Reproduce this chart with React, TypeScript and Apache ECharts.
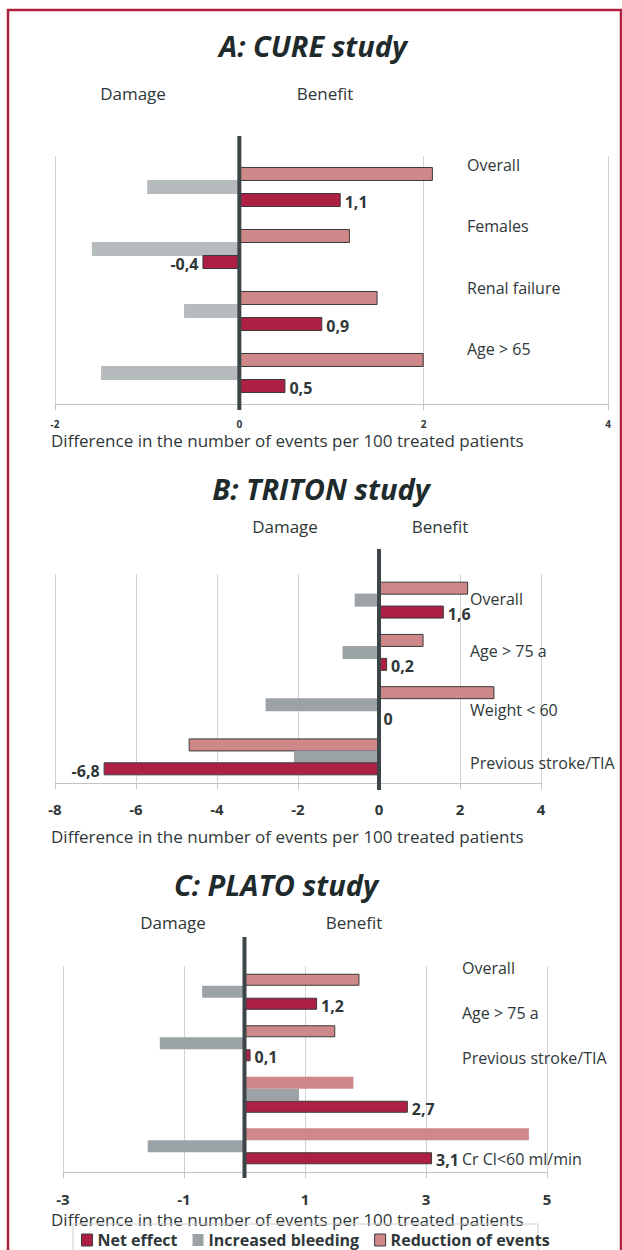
import React, { useEffect, useRef } from "react";
import * as echarts from "echarts";

// ---------- data ----------
const legendNames = ["Net effect", "Increased bleeding", "Reduction of events"];

// A: CURE study
const cureCategories = ["Overall", "Females", "Renal failure", "Age > 65"];
const cureNet = [1.1, -0.4, 0.9, 0.5];
const cureBleeding = [-1.0, -1.6, -0.6, -1.5];
const cureReduction = [2.1, 1.2, 1.5, 2.0];
const cureAxis = [-2, 4, 2]; // min, max, interval

// B: TRITON study
const tritonCategories = ["Overall", "Age > 75 a", "Weight < 60", "Previous stroke/TIA"];
const tritonNet = [1.6, 0.2, 0, -6.8];
const tritonBleeding = [-0.6, -0.9, -2.8, -2.1];
const tritonReduction = [2.2, 1.1, 2.85, -4.7];
const tritonAxis = [-8, 4, 2];

// C: PLATO study
const platoCategories = ["Overall", "Age > 75 a", "Previous stroke/TIA", "Cr Cl<60 ml/min"];
const platoNet = [1.2, 0.1, 2.7, 3.1];
const platoBleeding = [-0.7, -1.4, 0.9, -1.6];
const platoReduction = [1.9, 1.5, 1.8, 4.7];
const platoAxis = [-3, 5, 2];

const titles = ["A: CURE study", "B: TRITON study", "C: PLATO study"];
const axisTitle = "Difference in the number of events per 100 treated patients";

// ---------- styles ----------
const FONT = '"Open Sans", "Noto Sans", sans-serif';
const TEXT = "#2f3739";
const RED = "#ad1f45";
const PINK = "#cf8889";
const BORDER = "#3a3a3a";

const layout = [
  {
    grid: { left: 55, right: 14, top: 156, height: 248 },
    gray: "#b6bbbe",
    barWidth: 14,
    barGap: "-7%",
    labelX: 467,
    labelOffsets: [-22, -23, -23, -24],
    tickFont: 10,
    tickMargin: 14,
    zeroTop: 20,
    zeroBottom: 6,
    pinkBorder: [1, 1, 1, 1],
    title: [313, 45],
    damage: [133, 93],
    benefit: [325, 93],
    axisName: [51, 440],
  },
  {
    grid: { left: 55, right: 81, top: 574, height: 209 },
    gray: "#9ca3a7",
    barWidth: 13,
    barGap: "-8%",
    labelX: 470,
    labelOffsets: [-1, -1, 5, 6],
    tickFont: 15,
    tickMargin: 18,
    zeroTop: 25,
    zeroBottom: 7,
    pinkBorder: [1, 1, 1, 1],
    title: [321, 488],
    damage: [285, 526],
    benefit: [440, 526],
    axisName: [51, 836],
  },
  {
    grid: { left: 63, right: 75, top: 966, height: 206 },
    gray: "#9ca3a7",
    barWidth: 12,
    barGap: "0%",
    labelX: 462,
    labelOffsets: [-24, -30, -37, 13],
    tickFont: 15,
    tickMargin: 19,
    zeroTop: 29,
    zeroBottom: 6,
    pinkBorder: [1, 1, 0, 0],
    title: [276, 884],
    damage: [173, 922],
    benefit: [354, 922],
    axisName: [51, 1219],
  },
];

const panelData = [
  { cats: cureCategories, net: cureNet, bleed: cureBleeding, reduce: cureReduction, axis: cureAxis },
  { cats: tritonCategories, net: tritonNet, bleed: tritonBleeding, reduce: tritonReduction, axis: tritonAxis },
  { cats: platoCategories, net: platoNet, bleed: platoBleeding, reduce: platoReduction, axis: platoAxis },
];

const fmtComma = (v: number) => String(v).replace(".", ",");

function buildOption() {
  const grids: any[] = [];
  const xAxes: any[] = [];
  const yAxes: any[] = [];
  const series: any[] = [];
  const graphic: any[] = [];

  panelData.forEach((p, i) => {
    const L = layout[i];
    grids.push({ ...L.grid, containLabel: false });

    xAxes.push({
      type: "value",
      gridIndex: i,
      min: p.axis[0],
      max: p.axis[1],
      interval: p.axis[2],
      axisLine: { show: true, onZero: false, lineStyle: { color: "#c4c4c4", width: 1 } },
      axisTick: { show: true, length: 6, lineStyle: { color: "#c4c4c4" } },
      splitLine: { show: true, lineStyle: { color: "#d2d2d2", width: 1 } },
      axisLabel: {
        fontFamily: FONT,
        fontWeight: "bold",
        fontSize: L.tickFont,
        lineHeight: L.tickFont + 1,
        color: TEXT,
        margin: L.tickMargin,
        formatter: (v: number) => String(v),
      },
    });

    const rich: any = {};
    L.labelOffsets.forEach((d, j) => {
      rich["l" + j] = {
        fontFamily: FONT,
        fontSize: 16,
        color: TEXT,
        padding: d < 0 ? [0, 0, -2 * d, 0] : [2 * d, 0, 0, 0],
      };
    });

    yAxes.push({
      type: "category",
      gridIndex: i,
      data: p.cats,
      inverse: true,
      axisLine: { show: false, onZero: false },
      axisTick: { show: false },
      splitLine: { show: false },
      axisLabel: {
        margin: -(L.labelX - L.grid.left),
        align: "left",
        verticalAlign: "middle",
        fontFamily: FONT,
        fontSize: 16,
        color: TEXT,
        formatter: (v: string, idx: number) => `{l${idx}|${v}}`,
        rich,
      },
    });

    series.push({
      type: "bar",
      name: "Reduction of events",
      xAxisIndex: i,
      yAxisIndex: i,
      barWidth: L.barWidth,
      barGap: L.barGap,
      itemStyle: { color: PINK, borderColor: BORDER, borderWidth: 1 },
      data: p.reduce.map((v, j) => ({ value: v, itemStyle: { borderWidth: L.pinkBorder[j] } })),
    });
    series.push({
      type: "bar",
      name: "Increased bleeding",
      xAxisIndex: i,
      yAxisIndex: i,
      barWidth: L.barWidth,
      barGap: L.barGap,
      itemStyle: { color: L.gray, borderWidth: 0 },
      data: p.bleed,
    });
    series.push({
      type: "bar",
      name: "Net effect",
      xAxisIndex: i,
      yAxisIndex: i,
      barWidth: L.barWidth,
      barGap: L.barGap,
      itemStyle: { color: RED, borderColor: BORDER, borderWidth: 1 },
      data: p.net.map((v) => ({
        value: v,
        label: {
          show: true,
          position: v < 0 ? "left" : "right",
          distance: 4,
          offset: [0, 2],
          formatter: () => fmtComma(v),
          fontFamily: FONT,
          fontWeight: "bold",
          fontSize: 16,
          color: TEXT,
        },
      })),
    });
    series.push({
      type: "custom",
      name: "zero",
      xAxisIndex: i,
      yAxisIndex: i,
      data: [[0, 0]],
      clip: false,
      silent: true,
      z: 10,
      renderItem: (params: any, api: any) => {
        const pt = api.coord([0, 0]);
        const cs = params.coordSys;
        return {
          type: "line",
          shape: {
            x1: pt[0],
            y1: cs.y - L.zeroTop,
            x2: pt[0],
            y2: cs.y + cs.height + L.zeroBottom,
          },
          style: { stroke: "#3c4547", lineWidth: 4 },
        };
      },
    });

    graphic.push({
      type: "text",
      x: L.title[0],
      y: L.title[1],
      style: {
        text: titles[i],
        fontFamily: FONT,
        fontSize: 29,
        fontWeight: "bold",
        fontStyle: "italic",
        fill: "#1e2a2c",
        align: "center",
        verticalAlign: "middle",
      },
    });
    graphic.push({
      type: "text",
      x: L.damage[0],
      y: L.damage[1],
      style: { text: "Damage", fontFamily: FONT, fontSize: 17, fill: TEXT, align: "center", verticalAlign: "middle" },
    });
    graphic.push({
      type: "text",
      x: L.benefit[0],
      y: L.benefit[1],
      style: { text: "Benefit", fontFamily: FONT, fontSize: 17, fill: TEXT, align: "center", verticalAlign: "middle" },
    });
    graphic.push({
      type: "text",
      x: L.axisName[0],
      y: L.axisName[1],
      style: {
        text: axisTitle,
        fontFamily: FONT,
        fontSize: 17,
        lineHeight: 17,
        fill: TEXT,
        align: "left",
        verticalAlign: "middle",
      },
    });
  });

  graphic.push({
    type: "rect",
    shape: { x: 8, y: 10, width: 613, height: 1270 },
    style: { fill: "none", stroke: "#b0213f", lineWidth: 2.5 },
    silent: true,
  });
  graphic.push({
    type: "rect",
    shape: { x: 73, y: 1224, width: 465, height: 45 },
    style: { fill: "none", stroke: "#cfcfcf", lineWidth: 1 },
    silent: true,
  });

  return {
    animation: false,
    backgroundColor: "#ffffff",
    grid: grids,
    xAxis: xAxes,
    yAxis: yAxes,
    series,
    graphic,
    legend: {
      left: 81,
      top: 1232,
      padding: 0,
      icon: "rect",
      itemWidth: 11,
      itemHeight: 12,
      itemGap: 15,
      selectedMode: false,
      textStyle: { fontFamily: FONT, fontWeight: "bold", fontSize: 16, lineHeight: 16, color: TEXT },
      data: [
        { name: legendNames[0], itemStyle: { color: RED, borderColor: BORDER, borderWidth: 1 } },
        { name: legendNames[1], itemStyle: { color: "#9ca3a7", borderWidth: 0 } },
        { name: legendNames[2], itemStyle: { color: PINK, borderColor: BORDER, borderWidth: 1 } },
      ],
    },
  };
}

export default function App() {
  const ref = useRef<HTMLDivElement>(null);
  useEffect(() => {
    document.body.style.margin = "0";
    if (!ref.current) return;
    const chart = echarts.init(ref.current, null, { renderer: "svg" });
    chart.setOption(buildOption() as any);
    return () => chart.dispose();
  }, []);
  return <div ref={ref} style={{ width: 622, height: 1250 }} />;
}
